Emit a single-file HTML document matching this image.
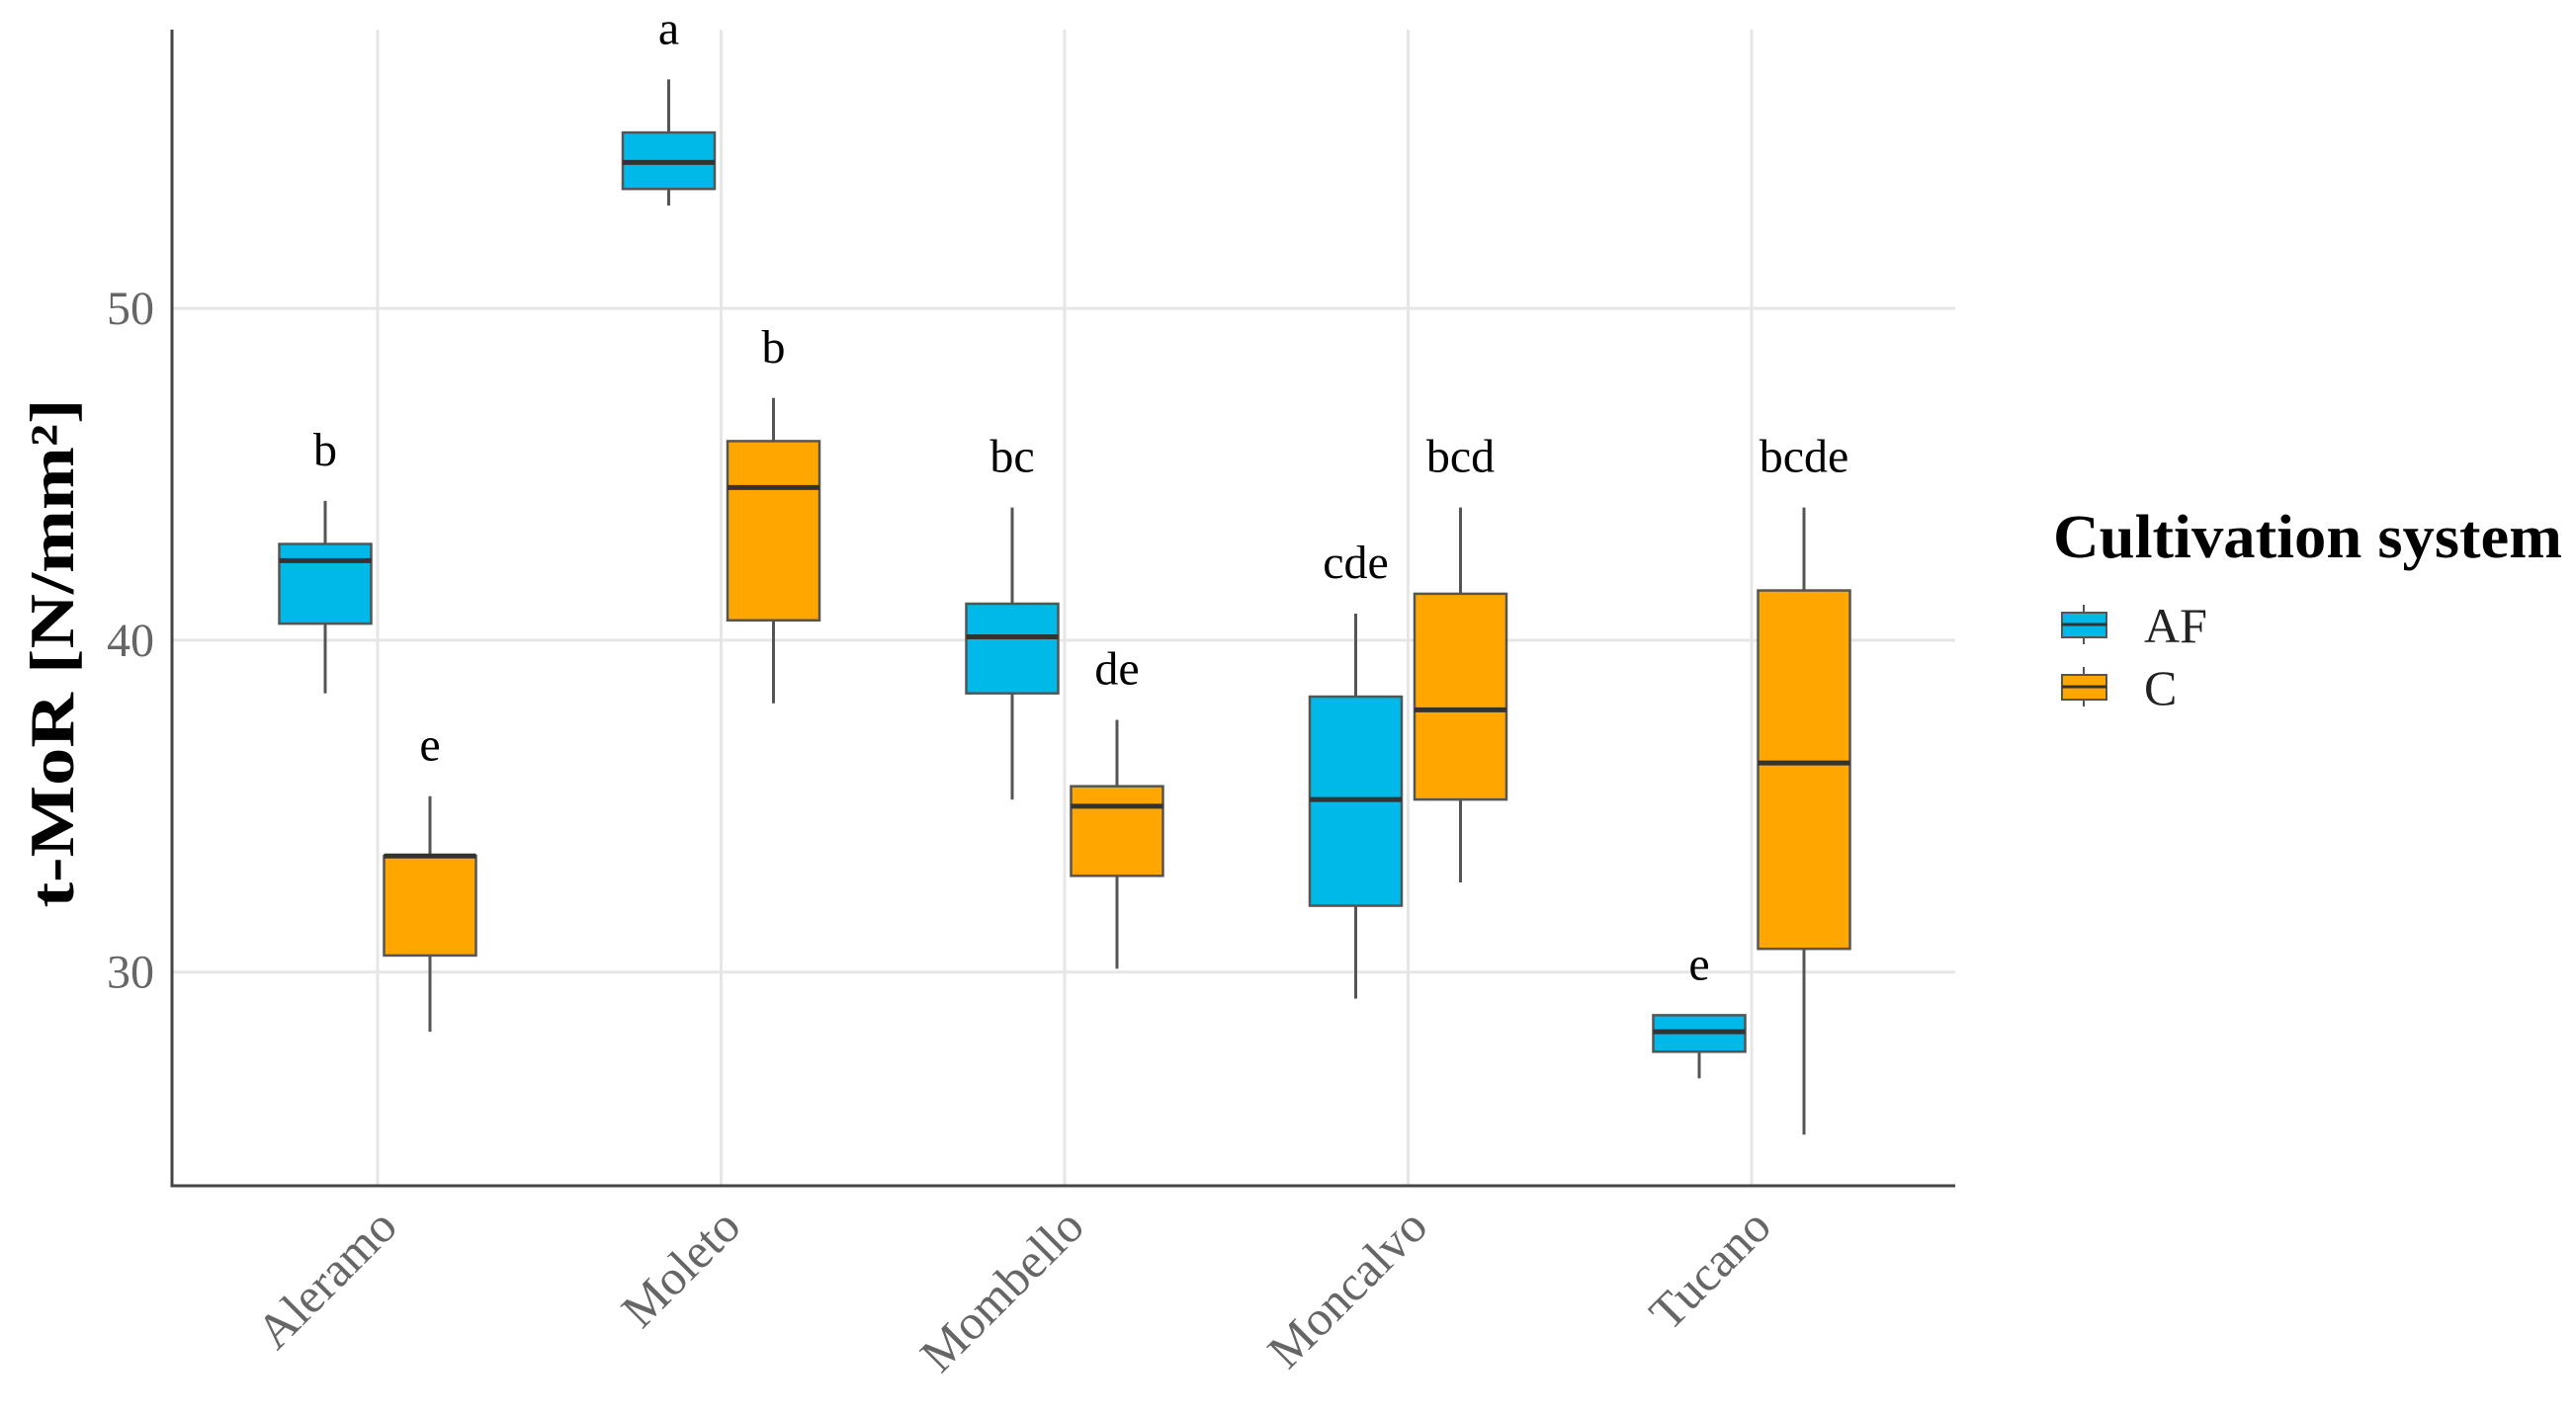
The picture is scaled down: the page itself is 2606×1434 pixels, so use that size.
<!DOCTYPE html>
<html><head><meta charset="utf-8"><style>
body{margin:0;background:#fff}
svg text{font-family:"Liberation Serif",serif}
</style></head><body>
<svg id="chart" width="2606" height="1429" viewBox="0 0 2606 1429" xmlns="http://www.w3.org/2000/svg">
<g id="grid"></g>
<g id="boxes"></g>
<g id="axes"></g>
<text transform="translate(74,661) rotate(-90)" text-anchor="middle" font-size="64" font-weight="bold" fill="#000" textLength="515" lengthAdjust="spacingAndGlyphs">t-MoR [N/mm²]</text>
<g>
<text x="2077" y="564" font-size="62" font-weight="bold" fill="#000" textLength="515" lengthAdjust="spacingAndGlyphs">Cultivation system</text>
<g>
<line x1="2108" y1="612" x2="2108" y2="652" stroke="#555" stroke-width="2"/>
<rect x="2086" y="620" width="45" height="25" fill="#00B9E8" stroke="#555" stroke-width="2"/>
<line x1="2086" y1="632" x2="2131" y2="632" stroke="#333" stroke-width="3"/>
<text x="2169" y="650" font-size="50" fill="#222">AF</text></g>
<g>
<line x1="2108" y1="675" x2="2108" y2="715" stroke="#555" stroke-width="2"/>
<rect x="2086" y="683" width="45" height="25" fill="#FFA600" stroke="#555" stroke-width="2"/>
<line x1="2086" y1="695" x2="2131" y2="695" stroke="#333" stroke-width="3"/>
<text x="2169" y="713" font-size="50" fill="#222">C</text></g>
</g>
</svg>
<script>
const categories=["Aleramo","Moleto","Mombello","Moncalvo","Tucano"];
const afMin=[38.4,53.1,35.2,29.2,26.8];
const afQ1=[40.5,53.6,38.4,32.0,27.6];
const afMed=[42.4,54.4,40.1,35.2,28.2];
const afQ3=[42.9,55.3,41.1,38.3,28.7];
const afMax=[44.2,56.9,44.0,40.8,28.7];
const afLetters=["b","a","bc","cde","e"];
const cMin=[28.2,38.1,30.1,32.7,25.1];
const cQ1=[30.5,40.6,32.9,35.2,30.7];
const cMed=[33.5,44.6,35.0,37.9,36.3];
const cQ3=[33.5,46.0,35.6,41.4,41.5];
const cMax=[35.3,47.3,37.6,44.0,44.0];
const cLetters=["e","b","de","bcd","bcde"];
const yTicks=[30,40,50];

const NS="http://www.w3.org/2000/svg";
const L=174,R=1978,T=30,B=1200;
const yMin=23.56,yMax=58.4;
const y=v=>B-(v-yMin)/(yMax-yMin)*(B-T);
const x0=382,step=347.5;
const x=i=>x0+i*step;
function mk(p,tag,a){const e=document.createElementNS(NS,tag);for(const k in a)e.setAttribute(k,a[k]);p.appendChild(e);return e;}
const grid=document.getElementById('grid'),boxes=document.getElementById('boxes'),axes=document.getElementById('axes');
yTicks.forEach(t=>{
 const g=mk(grid,'line',{x1:L,x2:R,y1:y(t),y2:y(t),stroke:'#e6e6e6','stroke-width':3});
 
 
 const tx=mk(axes,'text',{x:L-18,y:y(t)+16,'text-anchor':'end','font-size':48,fill:'#666'});
 tx.textContent=t;
 
 
});
categories.forEach((c,i)=>{
 const g=mk(grid,'line',{x1:x(i),x2:x(i),y1:T,y2:B,stroke:'#e6e6e6','stroke-width':3});
 
 
 const tx=mk(axes,'text',{transform:`translate(${x(i)+22},${B+44}) rotate(-45)`,'text-anchor':'end','font-size':50,fill:'#666'});
 tx.textContent=c;
 
 
});
const series=[
 {n:'af',off:-53,fill:'#00B9E8',mn:afMin,q1:afQ1,md:afMed,q3:afQ3,mx:afMax,lt:afLetters},
 {n:'c',off:53,fill:'#FFA600',mn:cMin,q1:cQ1,md:cMed,q3:cQ3,mx:cMax,lt:cLetters}];
const w=93;
series.forEach(s=>{
 categories.forEach((c,i)=>{
  const cx=x(i)+s.off;
  const g=mk(boxes,'g',{});
  
  
  mk(g,'line',{x1:cx,x2:cx,y1:y(s.mx[i]),y2:y(s.mn[i]),stroke:'#555','stroke-width':3});
  mk(g,'rect',{x:cx-w/2,y:y(s.q3[i]),width:w,height:Math.max(1,y(s.q1[i])-y(s.q3[i])),fill:s.fill,stroke:'#555','stroke-width':2.5});
  mk(g,'line',{x1:cx-w/2,x2:cx+w/2,y1:y(s.md[i]),y2:y(s.md[i]),stroke:'#333','stroke-width':5});
  const t=mk(boxes,'text',{x:cx,y:y(s.mx[i])-36,'text-anchor':'middle','font-size':48,fill:'#000'});
  t.textContent=s.lt[i];
  
  
 });
});
const ax=mk(axes,'path',{d:`M${L},${T} V${B} H${R}`,fill:'none',stroke:'#444','stroke-width':3});


</script>
</body></html>
